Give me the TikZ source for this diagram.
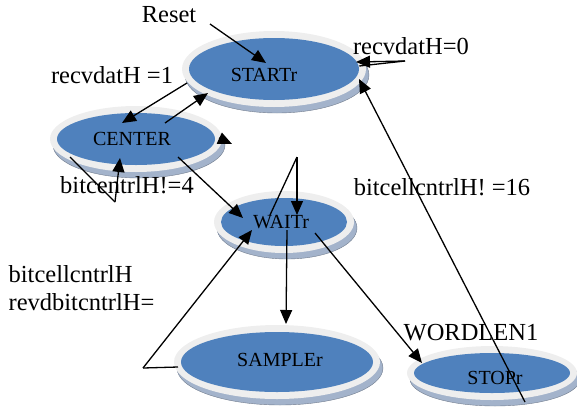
\documentclass[tikz,border=0pt]{standalone}
\usepackage{fontspec}
\setmainfont{Liberation Serif}
\usetikzlibrary{arrows.meta}
\usetikzlibrary{shapes.geometric}

\definecolor{discblue}{HTML}{4F81BD}
\definecolor{discrim}{HTML}{EEEEEE}
\definecolor{discshade}{HTML}{A3B3CB}

\tikzset{
  disc/.style={ellipse, fill=discblue, inner sep=0pt},
  disctext/.style={font=\fontsize{20}{20}\selectfont, inner sep=0pt},
  lbl/.style={font=\fontsize{24.5}{28}\selectfont, inner sep=0pt},
}

\begin{document}
\begin{tikzpicture}[x=1pt, y=-1pt, >={Triangle[length=14pt,width=12pt]}, line width=1.3pt]
\useasboundingbox (0,0) rectangle (577,407);
% discs: shadow, rim, face
\foreach \n/\x/\y/\rx/\ry in {start/274/69/85/31, center/136/139/79/26, wait/284/222/63/24, sample/277/362/96/30, stop/492/373/78/20} {
  \filldraw[discshade, draw=discshade!70!black, line width=.4pt, shift={(3,6)}] (\x,\y) ellipse [x radius=\rx+7, y radius=\ry+7];
  \fill[discrim] (\x,\y) ellipse [x radius=\rx+7, y radius=\ry+7];
  \node[disc, minimum width=2*\rx, minimum height=2*\ry] (\n) at (\x,\y) {};
}
\node[disctext] (startlbl) at (264,75) {STARTr};
\node[disctext] (centerlbl) at (132,139) {CENTER};
\node[disctext] (waitlbl) at (281,222) {WAITr};
\node[disctext] (samplelbl) at (280,360) {SAMPLEr};
\node[disctext] (stoplbl) at (495,378) {STOPr};

% labels
\node[lbl] (reset) at (169,15) {Reset};
\node[lbl] (rcv0) at (411,46) {recvdatH=0};
\node[lbl] (rcv1) at (112,75) {recvdatH =1};
\node[lbl] (bit4) at (127,185) {bitcentrlH!=4};
\node[lbl] (bit16) at (442,187) {bitcellcntrlH! =16};
\node[lbl, align=left, anchor=west] (revd) at (8,288) {bitcellcntrlH\\revdbitcntrlH=};
\node[lbl] (wordlen) at (471,333) {WORDLEN1};

% connectors
\coordinate (rst) at (210,24);
\coordinate (loop0) at (405,61);
\coordinate (loop4) at (115,202);
\coordinate (loopw) at (297,157);
\coordinate (back) at (143,368);
\draw[->] (rst) -- ([shift={(-8,-6)}]start.center);
\draw (start.2) -- (loop0);
\draw[->] (loop0) -- ([shift={(82,-7)}]start.center);
\draw[->] ([shift={(-87,14)}]start.center) -- ([shift={(-14,-16)}]center.center);
\draw[->] ([shift={(29,-16)}]center.center) -- ([shift={(-66,24)}]start.center);
\draw ([shift={(-66,18)}]center.center) -- (loop4);
\draw[->] (loop4) -- ([shift={(-16,19)}]center.center);
\draw[->] ([shift={(42,18)}]center.center) -- ([shift={(-41,-4)}]wait.center);
\draw[->] ([shift={(83,-1)}]center.center) -- ([shift={(96,5)}]center.center);
\draw ([shift={(-14,-7)}]wait.center) -- (loopw);
\draw[->] (loopw) -- ([shift={(13,-7)}]wait.center);
\draw[->] ([shift={(3,8)}]wait.center) -- ([shift={(9,-38)}]sample.center);
\draw ([shift={(-99,5)}]sample.center) -- (back);
\draw[->] (back) -- ([shift={(-32,8)}]wait.center);
\draw[->] ([shift={(31,11)}]wait.center) -- ([shift={(-70,-10)}]stop.center);
\draw[->] ([shift={(33,29)}]stop.center) -- ([shift={(85,10)}]start.center);
\end{tikzpicture}
\end{document}
